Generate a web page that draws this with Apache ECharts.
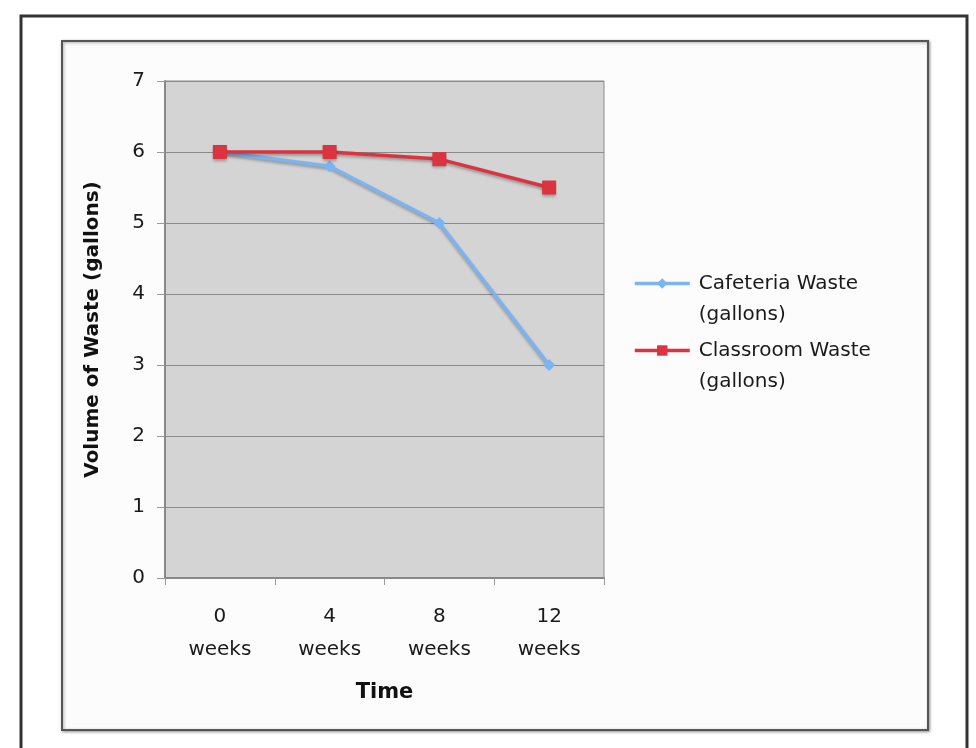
<!DOCTYPE html>
<html><head><meta charset="utf-8">
<script src="https://cdn.jsdelivr.net/npm/echarts@6/dist/echarts.min.js"></script>
<style>html,body{margin:0;padding:0;background:#fff}#c{width:976px;height:748px}</style>
</head><body><div id="c"></div>
<script>
var categories = ['0\nweeks', '4\nweeks', '8\nweeks', '12\nweeks'];
var cafeteria = [6, 5.8, 5, 3];
var classroom = [6, 6, 5.9, 5.5];
var seriesNames = ['Cafeteria Waste (gallons)', 'Classroom Waste (gallons)'];
var yTitle = 'Volume of Waste (gallons)';
var xTitle = 'Time';

var FONT = 'DejaVu Sans';
var chart = echarts.init(document.getElementById('c'), null, {renderer: 'canvas'});
function legendCfg(name, top) {
  return {
    data: [name], left: 628, top: top, orient: 'vertical',
    itemWidth: 55, itemHeight: 13, selectedMode: false,
    lineStyle: {width: 3.5},
    formatter: function (n) { return '\n' + n.replace(' (', '\n('); },
    textStyle: {fontFamily: FONT, fontSize: 20, color: '#1a1a1a', lineHeight: 31, padding: [0, 0, 0, 4]}
  };
}
chart.setOption({
  animation: false,
  backgroundColor: '#fff',
  graphic: [
    {type: 'rect', shape: {x: 21, y: 16, width: 946, height: 760}, style: {fill: '#fff', stroke: '#333', lineWidth: 3}, z: -10},
    {type: 'rect', shape: {x: 62, y: 41, width: 866, height: 689}, style: {fill: '#fcfcfc', stroke: '#555', lineWidth: 2, shadowColor: 'rgba(0,0,0,0.35)', shadowBlur: 3, shadowOffsetX: 1, shadowOffsetY: 1}, z: -9}
  ],
  grid: {left: 165, top: 81, right: 372, bottom: 170, show: true, backgroundColor: '#d4d4d4', borderColor: '#8c8c8c', borderWidth: 1},
  legend: [legendCfg(seriesNames[0], 232), legendCfg(seriesNames[1], 299)],
  xAxis: {
    type: 'category', data: categories, boundaryGap: true,
    name: xTitle, nameLocation: 'middle', nameGap: 104,
    nameTextStyle: {fontFamily: FONT, fontSize: 21, fontWeight: 'bold', color: '#111'},
    axisLine: {lineStyle: {color: '#888', width: 2}},
    axisTick: {show: true, length: 7, lineStyle: {color: '#999'}},
    axisLabel: {fontFamily: FONT, fontSize: 20, color: '#1a1a1a', lineHeight: 33, margin: 22}
  },
  yAxis: {
    type: 'value', min: 0, max: 7, interval: 1,
    name: yTitle, nameLocation: 'middle', nameGap: 62, nameRotate: 90,
    nameTextStyle: {fontFamily: FONT, fontSize: 20, fontWeight: 'bold', color: '#111'},
    axisLine: {show: true, lineStyle: {color: '#888', width: 2}},
    axisTick: {show: true, length: 8, lineStyle: {color: '#999'}},
    axisLabel: {fontFamily: FONT, fontSize: 20, color: '#1a1a1a', margin: 20},
    splitLine: {lineStyle: {color: '#8a8a8a', width: 1}}
  },
  series: [
    {name: seriesNames[0], type: 'line', data: cafeteria, symbol: 'diamond', symbolSize: 12,
     color: '#7ab4f2', lineStyle: {width: 3.5, shadowColor: 'rgba(0,0,0,0.3)', shadowBlur: 3, shadowOffsetY: 2},
     itemStyle: {color: '#7ab4f2'}},
    {name: seriesNames[1], type: 'line', data: classroom, symbol: 'rect', symbolSize: 14,
     color: '#dc3340', lineStyle: {width: 3.5, shadowColor: 'rgba(0,0,0,0.3)', shadowBlur: 3, shadowOffsetY: 2},
     itemStyle: {color: '#dc3340', shadowColor: 'rgba(0,0,0,0.3)', shadowBlur: 3, shadowOffsetY: 2}}
  ]
});
</script></body></html>
